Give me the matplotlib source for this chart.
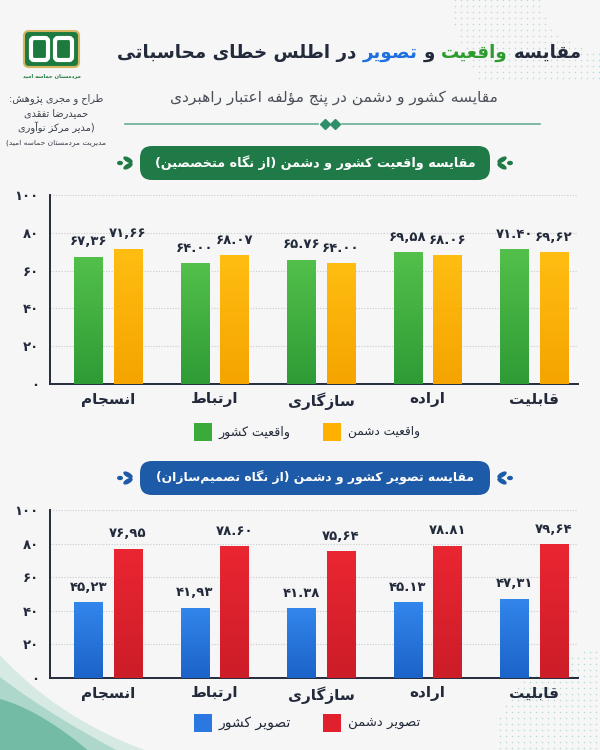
import numpy as np
import matplotlib
matplotlib.use("Agg")
import matplotlib.pyplot as plt
from matplotlib import font_manager
from matplotlib.colors import LinearSegmentedColormap
from matplotlib.patches import FancyBboxPatch, Rectangle, Polygon, Ellipse

# ---- data ----
categories = ["انسجام", "ارتباط", "سازگاری", "اراده", "قابلیت"]
real_country = [67.36, 64.00, 65.76, 69.58, 71.40]
real_enemy = [71.66, 68.07, 64.00, 68.06, 69.62]
image_country = [45.23, 41.93, 41.38, 45.13, 47.31]
image_enemy = [76.95, 78.60, 75.64, 78.81, 79.64]
# decimal separator as printed on each label
real_country_sep = [",", ".", ".", ",", "."]
real_enemy_sep = [",", ".", ".", ".", ","]
image_country_sep = [",", ",", ".", ".", ","]
image_enemy_sep = [",", ".", ",", ".", ","]
y_ticks = [0, 20, 40, 60, 80, 100]

title_parts = ["مقایسه", "واقعیت", "و", "تصویر", "در اطلس خطای محاسباتی"]
subtitle = "مقایسه کشور و دشمن در پنج مؤلفه اعتبار راهبردی"
panel_titles = ["مقایسه واقعیت کشور و دشمن (از نگاه متخصصین)",
                "مقایسه تصویر کشور و دشمن (از نگاه تصمیم\u200cسازان)"]
legend_top = ["واقعیت کشور", "واقعیت دشمن"]
legend_bottom = ["تصویر کشور", "تصویر دشمن"]
credits = ["طراح و مجری پژوهش:", "حمیدرضا تفقدی", "(مدیر مرکز نوآوری",
           "مدیریت مردمستان حماسه امید)"]
logo_caption = "مردمستان حماسه امید"

# ---- minimal Persian shaping (matplotlib has no bidi / joining) ----
FORMS = {
    "ا": ("\uFE8D", "\uFE8E", None, None),
    "آ": ("\uFE81", "\uFE82", None, None),
    "ب": ("\uFE8F", "\uFE90", "\uFE91", "\uFE92"),
    "پ": ("\uFB56", "\uFB57", "\uFB58", "\uFB59"),
    "ت": ("\uFE95", "\uFE96", "\uFE97", "\uFE98"),
    "ث": ("\uFE99", "\uFE9A", "\uFE9B", "\uFE9C"),
    "ج": ("\uFE9D", "\uFE9E", "\uFE9F", "\uFEA0"),
    "چ": ("\uFB7A", "\uFB7B", "\uFB7C", "\uFB7D"),
    "ح": ("\uFEA1", "\uFEA2", "\uFEA3", "\uFEA4"),
    "خ": ("\uFEA5", "\uFEA6", "\uFEA7", "\uFEA8"),
    "د": ("\uFEA9", "\uFEAA", None, None),
    "ذ": ("\uFEAB", "\uFEAC", None, None),
    "ر": ("\uFEAD", "\uFEAE", None, None),
    "ز": ("\uFEAF", "\uFEB0", None, None),
    "ژ": ("\uFB8A", "\uFB8B", None, None),
    "س": ("\uFEB1", "\uFEB2", "\uFEB3", "\uFEB4"),
    "ش": ("\uFEB5", "\uFEB6", "\uFEB7", "\uFEB8"),
    "ص": ("\uFEB9", "\uFEBA", "\uFEBB", "\uFEBC"),
    "ض": ("\uFEBD", "\uFEBE", "\uFEBF", "\uFEC0"),
    "ط": ("\uFEC1", "\uFEC2", "\uFEC3", "\uFEC4"),
    "ظ": ("\uFEC5", "\uFEC6", "\uFEC7", "\uFEC8"),
    "ع": ("\uFEC9", "\uFECA", "\uFECB", "\uFECC"),
    "غ": ("\uFECD", "\uFECE", "\uFECF", "\uFED0"),
    "ف": ("\uFED1", "\uFED2", "\uFED3", "\uFED4"),
    "ق": ("\uFED5", "\uFED6", "\uFED7", "\uFED8"),
    "ک": ("\uFB8E", "\uFB8F", "\uFB90", "\uFB91"),
    "گ": ("\uFB92", "\uFB93", "\uFB94", "\uFB95"),
    "ل": ("\uFEDD", "\uFEDE", "\uFEDF", "\uFEE0"),
    "م": ("\uFEE1", "\uFEE2", "\uFEE3", "\uFEE4"),
    "ن": ("\uFEE5", "\uFEE6", "\uFEE7", "\uFEE8"),
    "ه": ("\uFEE9", "\uFEEA", "\uFEEB", "\uFEEC"),
    "و": ("\uFEED", "\uFEEE", None, None),
    "ؤ": ("\uFE85", "\uFE86", None, None),
    "ی": ("\uFBFC", "\uFBFD", "\uFBFE", "\uFBFF"),
}
LAM_ALEF = {"ا": ("\uFEFB", "\uFEFC"), "آ": ("\uFEF5", "\uFEF6")}


def fa(text):
    out = []
    i, n = 0, len(text)
    while i < n:
        c = text[i]
        if c not in FORMS:
            if c != "\u200c":
                out.append(c)
            i += 1
            continue
        prev = text[i - 1] if i > 0 else ""
        joins_prev = prev in FORMS and FORMS[prev][2] is not None
        if c == "ل" and i + 1 < n and text[i + 1] in LAM_ALEF:
            out.append(LAM_ALEF[text[i + 1]][1 if joins_prev else 0])
            i += 2
            continue
        nxt = text[i + 1] if i + 1 < n else ""
        iso, fin, ini, med = FORMS[c]
        joins_next = ini is not None and nxt in FORMS
        if joins_prev and joins_next:
            out.append(med)
        elif joins_prev:
            out.append(fin)
        elif joins_next:
            out.append(ini)
        else:
            out.append(iso)
        i += 1
    mirror = {"(": ")", ")": "("}
    return "".join(mirror.get(ch, ch) for ch in reversed(out))


FA_DIGITS = str.maketrans("0123456789", "۰۱۲۳۴۵۶۷۸۹")


def fa_num(v, sep="."):
    return f"{v:.2f}".replace(".", sep).translate(FA_DIGITS)


# a condensed face (if the system has one) lets the long headings stay tall
installed = {f.name for f in font_manager.fontManager.ttflist}
HEAD = ["DejaVu Sans Condensed", "DejaVu Sans"] if "DejaVu Sans Condensed" in installed \
    else ["DejaVu Sans"]
plt.rcParams["font.family"] = ["DejaVu Sans"]
DARK = "#232a3b"
BG = "#f5f6f5"

fig = plt.figure(figsize=(6, 7.5), dpi=100, facecolor=BG)
# pixel canvas for the decoration around the charts
bg = fig.add_axes([0, 0, 1, 1], zorder=0)
bg.set_xlim(0, 600)
bg.set_ylim(750, 0)
bg.axis("off")
renderer = fig.canvas.get_renderer()


def fit(txt_obj, width):
    """shrink a text until it is no wider than width pixels"""
    w = txt_obj.get_window_extent(renderer).width
    if w > width:
        txt_obj.set_fontsize(txt_obj.get_fontsize() * width / w)
    return txt_obj


# corner decoration
t = np.linspace(0, 1, 60)
for k, (col, a) in enumerate([("#9fd3c4", 0.35), ("#5fb79e", 0.35), ("#2f9a7c", 0.45)]):
    x0, y0 = 0, 655 + k * 22
    xs = (1 - t) ** 2 * x0 + 2 * (1 - t) * t * (60 - k * 10) + t ** 2 * (150 - k * 30)
    ys = (1 - t) ** 2 * y0 + 2 * (1 - t) * t * (720 - k * 5) + t ** 2 * 752
    bg.add_patch(Polygon(np.column_stack([np.r_[xs, 0], np.r_[ys, 752]]),
                         closed=True, color=col, alpha=a, lw=0))
gx, gy = np.meshgrid(np.arange(455, 601, 6), np.arange(0, 80, 6))
r = np.hypot(gx - 600, gy + 10)
m = (r > 60) & (r < 150)
bg.scatter(gx[m], gy[m], s=1.2, color="#8fc9d8", alpha=0.6, lw=0)
gx, gy = np.meshgrid(np.arange(500, 601, 6), np.arange(640, 751, 6))
r = np.hypot(gx - 600, gy - 760)
m = r < 110
bg.scatter(gx[m], gy[m], s=1.2, color="#8fc9c0", alpha=0.6, lw=0)

# logo
bg.add_patch(FancyBboxPatch((24, 31), 55, 36, boxstyle="round,pad=0,rounding_size=5",
                            fc="#1d7a3f", ec="#d6b661", lw=1.5))
bg.add_patch(FancyBboxPatch((31, 38), 17, 22, boxstyle="round,pad=0,rounding_size=3",
                            fc="none", ec="white", lw=3))
bg.add_patch(FancyBboxPatch((55, 38), 17, 22, boxstyle="round,pad=0,rounding_size=3",
                            fc="none", ec="white", lw=3))
fit(bg.text(51.5, 76, fa(logo_caption), ha="center", va="center", fontsize=7,
            fontweight="bold", color="#1d7a3f", family=HEAD), 58)
for k, line in enumerate(credits):
    fit(bg.text(56, 99 + k * 14.5, fa(line), ha="center", va="center", fontsize=7,
                color="#3a3f4a", family=HEAD), 100)

# title with two coloured words, laid out right to left
title_colors = [DARK, "#2e9b2e", DARK, "#1f6fe0", DARK]
pieces = [bg.text(0, 53, fa(p), fontsize=24, fontweight="bold", color=c, family=HEAD,
                  ha="right", va="center") for p, c in zip(title_parts, title_colors)]
widths = [p.get_window_extent(renderer).width for p in pieces]
gap = 6
scale = min(1.0, (466 - gap * 4) / sum(widths))
for p in pieces:
    p.set_fontsize(24 * scale)
widths = [w * scale for w in widths]
total = sum(widths) + gap * (len(widths) - 1)
x_right = 349 + total / 2
for p, w in zip(pieces, widths):
    p.set_x(x_right)
    x_right -= w + gap

fit(bg.text(334, 98, fa(subtitle), ha="center", va="center", fontsize=14,
            color="#4a4f5a", family=HEAD), 330)

# divider with two small diamonds
bg.plot([125, 318], [124, 124], color="#2f8f6a", lw=1.2, alpha=0.7)
bg.plot([342, 540], [124, 124], color="#2f8f6a", lw=1.2, alpha=0.7)
bg.plot([325, 335], [124, 124], "D", color="#2f8f6a", ms=5)


def banner(yc, text, color):
    bg.add_patch(FancyBboxPatch((140, yc - 17), 350, 34,
                                boxstyle="round,pad=0,rounding_size=12",
                                fc=color, ec="none"))
    fit(bg.text(315, yc, fa(text), ha="center", va="center", fontsize=14,
                fontweight="bold", color="white", family=HEAD), 322)
    for xo, sgn in [(126, 1), (504, -1)]:
        for dy in (-3.2, 3.2):
            bg.add_patch(Ellipse((xo + sgn * 2, yc + dy), 9, 3.4,
                                 angle=sgn * (30 if dy < 0 else -30), color=color))
        bg.add_patch(Ellipse((xo - sgn * 6, yc), 4.5, 3, color=color))


banner(163, panel_titles[0], "#1f7a47")
banner(478, panel_titles[1], "#1d5aa8")


def legend(yc, labels, colors):
    for x0, lab, col in zip([194, 323], labels, colors):
        bg.add_patch(Rectangle((x0, yc - 9), 18, 18, fc=col, ec="none"))
        fit(bg.text(x0 + 25, yc, fa(lab), ha="left", va="center", fontsize=10.5,
                    color=DARK), 72)


legend(432, legend_top, ["#3aaa3a", "#ffb000"])
legend(723, legend_bottom, ["#2a78e0", "#e0202c"])

# ---- the two bar charts ----
BW = 0.263
OFF = 0.185


def gradient_bar(ax, xc, h, top, bottom):
    bar = ax.bar(xc, h, width=BW, color=bottom, edgecolor="none", zorder=3)[0]
    cmap = LinearSegmentedColormap.from_list("g", [bottom, top])
    im = ax.imshow(np.linspace(0, 1, 64).reshape(-1, 1), extent=(xc - BW / 2, xc + BW / 2, 0, h),
                   origin="lower", cmap=cmap, aspect="auto", zorder=3.1)
    im.set_clip_path(bar)


def panel(rect, left_vals, right_vals, left_sep, right_sep, left_cols, right_cols):
    ax = fig.add_axes(rect, zorder=1)
    ax.set_facecolor("none")
    x = np.arange(len(categories))
    for i in x:
        for xc, v, sep, cols in [(i - OFF, left_vals[i], left_sep[i], left_cols),
                                 (i + OFF, right_vals[i], right_sep[i], right_cols)]:
            gradient_bar(ax, xc, v, *cols)
            ax.annotate(fa_num(v, sep), (xc, v), xytext=(0, 6), textcoords="offset points",
                        ha="center", va="bottom", fontsize=9.5, fontweight="bold", color=DARK)
    ax.set_xlim(-0.545, 4.413)
    ax.set_ylim(0, 100)
    ax.set_yticks(y_ticks, [str(v).translate(FA_DIGITS) for v in y_ticks])
    ax.set_xticks(x, [fa(c) for c in categories])
    for yv in y_ticks[1:]:
        ax.axhline(yv, color="#c9cbcf", lw=0.8, ls=(0, (1, 1.5)), zorder=1)
    for s in ["top", "right"]:
        ax.spines[s].set_visible(False)
    for s in ["left", "bottom"]:
        ax.spines[s].set_color(DARK)
        ax.spines[s].set_linewidth(1.4)
    ax.tick_params(axis="y", length=0, pad=8, labelsize=9.5, labelcolor=DARK)
    ax.tick_params(axis="x", length=0, pad=6, labelsize=11, labelcolor=DARK)
    for lab in ax.get_xticklabels() + ax.get_yticklabels():
        lab.set_fontweight("bold")
    return ax


panel([50 / 600, 1 - 384 / 750, 528 / 600, 189 / 750],
      real_country, real_enemy, real_country_sep, real_enemy_sep,
      ("#52c04a", "#2f9b36"), ("#ffbd12", "#f5a400"))
panel([50 / 600, 1 - 678 / 750, 528 / 600, 168 / 750],
      image_country, image_enemy, image_country_sep, image_enemy_sep,
      ("#3286ec", "#1c63c8"), ("#ea2632", "#cc1d28"))

fig.savefig("out.png", dpi=100, facecolor=BG)
